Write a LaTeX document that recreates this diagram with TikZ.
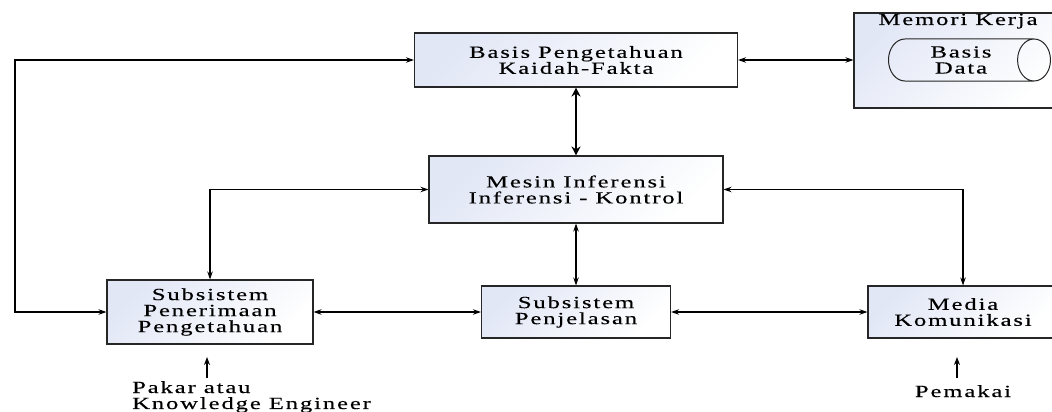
\documentclass[tikz,border=0pt]{standalone}
\usepackage{fontspec}
\setmainfont{Liberation Serif}[FakeStretch=1.45,LetterSpace=11,FakeBold=0.25]
\usetikzlibrary{shapes,arrows.meta,positioning,calc}
\definecolor{boxblue}{HTML}{E2E7F6}

\begin{document}
\begin{tikzpicture}[
        x=1pt, y=-1pt,
        font=\fontsize{17}{16}\selectfont,
        box/.style={rectangle, draw=black!85, line width=1.1pt, top color=boxblue, bottom color=white, shading angle=45, align=center, inner sep=0pt},
        arrow/.style={<->, line width=1.1pt, >={Stealth[length=8pt,width=5.5pt]}},
        bigarrow/.style={<->, line width=2.6pt, >={Stealth[length=9pt,width=9pt]}},
        uparrow/.style={->, line width=1.4pt, >={Stealth[length=8pt,width=6pt]}}
    ]
    \useasboundingbox (0,0) rectangle (1052,412);

    \node[box, minimum width=323pt, minimum height=54pt] (basis) at (576,60) {Basis Pengetahuan\\Kaidah-Fakta};
    \node[box, minimum width=208pt, minimum height=95pt] (memori) at (958,60.5) {};
    \node[anchor=base, inner sep=0pt] (memlabel) at (958,25) {Memori Kerja};
    \node[cylinder, draw=black!85, line width=1pt, minimum height=162pt, minimum width=42pt, aspect=1.2, inner sep=0pt, align=center] (basisdata) at (961,60) {Basis\\Data};
    \node[box, minimum width=294pt, minimum height=67pt] (mesin) at (576,189.5) {Mesin Inferensi\\Inferensi - Kontrol};
    \node[box, minimum width=206pt, minimum height=64pt] (penerimaan) at (210,312) {Subsistem\\Penerimaan\\Pengetahuan};
    \node[box, minimum width=189pt, minimum height=52pt] (penjelasan) at (576,312) {Subsistem\\Penjelasan};
    \node[box, minimum width=190pt, minimum height=52pt] (media) at (963,312) {Media\\Komunikasi};
    \node[anchor=north west, align=left, inner sep=0pt] (pakar) at (132,381) {Pakar atau\\Knowledge Engineer};
    \node[anchor=base, inner sep=0pt] (pemakai) at (963,397) {Pemakai};

    \coordinate (bus) at (15,0);
    \coordinate (pakarup) at (207,357);
    \coordinate (pemakaiup) at (957,357);

    \draw[arrow] (basis.east) -- (basis.east -| memori.west);
    \draw[arrow] (basis.west) -- (basis.west -| bus) -- (penerimaan.west -| bus) -- (penerimaan.west);
    \draw[bigarrow] (basis) -- (mesin);
    \draw[arrow] (mesin.west) -| (penerimaan.north);
    \draw[arrow] (mesin.east) -| (media.north);
    \draw[arrow] (mesin) -- (penjelasan);
    \draw[arrow] (penerimaan) -- (penjelasan);
    \draw[arrow] (penjelasan) -- (media);
    \draw[uparrow] (pakar.north -| pakarup) ++(0,-3) -- (pakarup);
    \draw[uparrow] (pemakai.north -| pemakaiup) ++(0,-7) -- (pemakaiup);

\end{tikzpicture}
\end{document}
